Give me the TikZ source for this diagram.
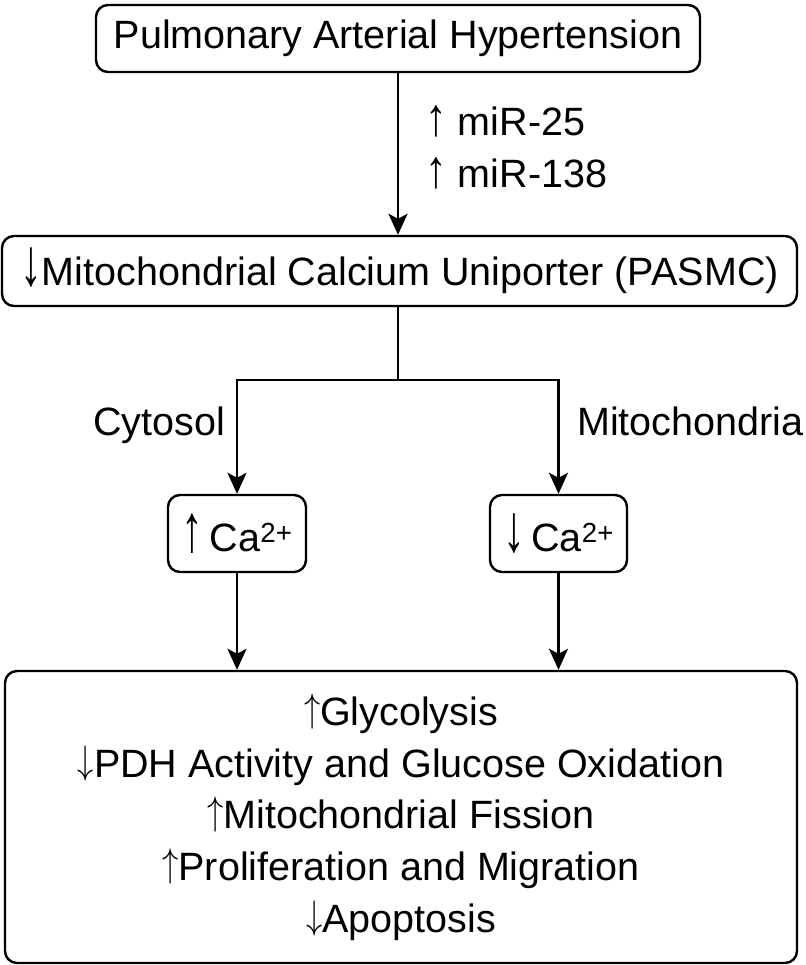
\documentclass[tikz,border=0pt]{standalone}
\usepackage{fontspec}
\setmainfont{Liberation Sans}
\usetikzlibrary{arrows.meta}

\newcommand{\incr}{\raisebox{4pt}{\scalebox{1.3}[1.6]{$\uparrow$}}}
\newcommand{\decr}{\raisebox{4pt}{\scalebox{1.3}[1.6]{$\downarrow$}}}
\newcommand{\tallup}[1]{\scalebox{1.1}[#1]{↑}}
\newcommand{\talldown}[1]{\scalebox{1.1}[#1]{↓}}

\tikzset{
  box/.style={draw, line width=2.4pt, rounded corners=12pt, align=center, inner sep=0pt},
  link/.style={line width=2.4pt, -{Stealth[length=21pt, width=19pt, inset=5pt]}},
  lbl/.style={inner sep=0pt}
}

\begin{document}
\begin{tikzpicture}[x=1pt, y=-1pt, font=\fontsize{39.5}{51.7}\selectfont]
  \useasboundingbox (0,0) rectangle (805,965);

  \node[box, minimum width=604pt, minimum height=67pt] (pah) at (398,38.5) {Pulmonary Arterial Hypertension};
  \node[box, minimum width=795pt, minimum height=70pt] (mcu) at (399.5,271) {\talldown{1.7}Mitochondrial Calcium Uniporter (PASMC)};
  \node[box, minimum width=138pt, minimum height=77pt] (caup) at (237,533.5) {\tallup{1.7}\,Ca\textsuperscript{2+}};
  \node[box, minimum width=137pt, minimum height=77pt] (cadown) at (558.5,533.5) {\talldown{1.7}\,Ca\textsuperscript{2+}};
  \node[box, minimum width=792pt, minimum height=292pt] (effects) at (401,817)
    {\incr Glycolysis\\
     \decr PDH Activity and Glucose Oxidation\\
     \incr Mitochondrial Fission\\
     \incr Proliferation and Migration\\
     \decr Apoptosis};

  \node[lbl, anchor=base east] (cyto) at (225,435) {Cytosol};
  \node[lbl, anchor=base west] (mito) at (577,435) {Mitochondria};
  \coordinate (split) at (398,380);

  \draw[link] (pah) -- node[lbl, anchor=west, xshift=26pt, yshift=7pt, align=left] (mir) {\tallup{1.35} miR-25\\\tallup{1.35} miR-138} (pah |- mcu.north);
  \draw[line width=2.4pt] (mcu.south -| split) -- (split);
  \draw[link] (split) -| (caup);
  \draw[link] (split) -| (cadown);
  \draw[link] (caup) -- (caup |- effects.north);
  \draw[link] (cadown) -- (cadown |- effects.north);
\end{tikzpicture}
\end{document}
